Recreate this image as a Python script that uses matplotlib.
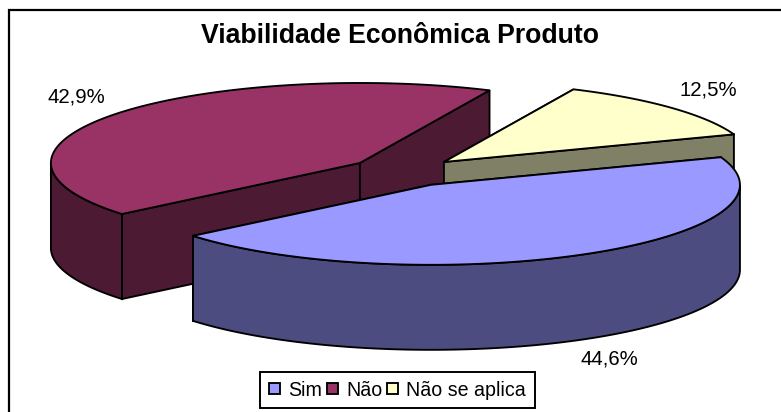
import numpy as np
import matplotlib
matplotlib.use("Agg")
import matplotlib.pyplot as plt
from matplotlib.patches import Polygon, Rectangle, Patch

plt.rcParams['font.family'] = ['Liberation Sans', 'DejaVu Sans']

title = "Viabilidade Econômica Produto"
categories = ["Sim", "Não", "Não se aplica"]
shares = [44.6, 42.9, 12.5]
share_labels = ["44,6%", "42,9%", "12,5%"]

top_colors = ["#9999FF", "#993366", "#FFFFCC"]
wall_colors = ["#4C4C80", "#4D1A33", "#808066"]
draw_order = [1, 2, 0]

W, H = 781, 412
CX, CY = 403.5, 172.0
RX, RY = 309.0, 80.0
EX, EY = 55.0, 14.8
DEPTH = 85.0
START = -20.2
LW = 1.35

fig = plt.figure(figsize=(W / 100, H / 100), dpi=100)
ax = fig.add_axes([0, 0, 1, 1])
ax.set_xlim(0, W)
ax.set_ylim(H, 0)
ax.axis("off")

ax.add_patch(Rectangle((9.2, 10.2), 790, 420, fc="white", ec="black", lw=1.6, zorder=0, clip_on=True))

sweeps = np.array(shares) / sum(shares) * 360
starts = START + np.concatenate(([0], np.cumsum(sweeps)[:-1]))


def arc(ax_x, ax_y, t0, t1):
    t = np.radians(np.linspace(t0, t1, 200))
    return np.column_stack((ax_x + RX * np.cos(t), ax_y + RY * np.sin(t)))


z = 1
for i in draw_order:
    t0, t1 = starts[i], starts[i] + sweeps[i]
    mid = np.radians((t0 + t1) / 2)
    ax_x = CX + EX * np.cos(mid)
    ax_y = CY + EY * np.sin(mid)
    apex = np.array([ax_x, ax_y])
    down = np.array([0, DEPTH])
    rim = arc(ax_x, ax_y, t0, t1)
    # radial walls
    for edge in (rim[0], rim[-1]):
        quad = np.array([apex, edge, edge + down, apex + down])
        ax.add_patch(Polygon(quad, closed=True, fc=wall_colors[i], ec="black", lw=LW, zorder=z))
        z += 1
    # visible (front) portion of the outer wall
    for k in (-1, 0, 1):
        a, b = max(t0, 360 * k), min(t1, 360 * k + 180)
        if b > a:
            front = arc(ax_x, ax_y, a, b)
            wall = np.vstack((front, (front + down)[::-1]))
            ax.add_patch(Polygon(wall, closed=True, fc=wall_colors[i], ec="black", lw=LW, zorder=z))
            z += 1
    ax.add_patch(Polygon(np.vstack((apex, rim)), closed=True, fc=top_colors[i], ec="black",
                         lw=LW, joinstyle="round", zorder=z))
    z += 1

label_pos = [(609, 359), (76, 97), (708, 90)]
for txt, (x, y) in zip(share_labels, label_pos):
    ax.text(x, y, txt, fontsize=14.7, ha="center", va="center", color="black", zorder=z)

ax.text(400, 35.5, title, fontsize=19.2, fontweight="bold", ha="center", va="center", color="black", zorder=z)

handles = [Patch(fc=c, ec="black", lw=LW) for c in top_colors]
leg = ax.legend(handles, categories, ncol=3, loc="center", bbox_to_anchor=(397.5 / W, 1 - 390 / H),
                fontsize=14.1, frameon=True, fancybox=False, edgecolor="black", framealpha=1,
                handlelength=0.55, handleheight=0.55, handletextpad=0.42, columnspacing=0.25,
                borderpad=0.45, borderaxespad=0)
leg.get_frame().set_linewidth(1.4)
leg.set_zorder(z + 1)

fig.savefig("out.png", dpi=100, facecolor="white")
